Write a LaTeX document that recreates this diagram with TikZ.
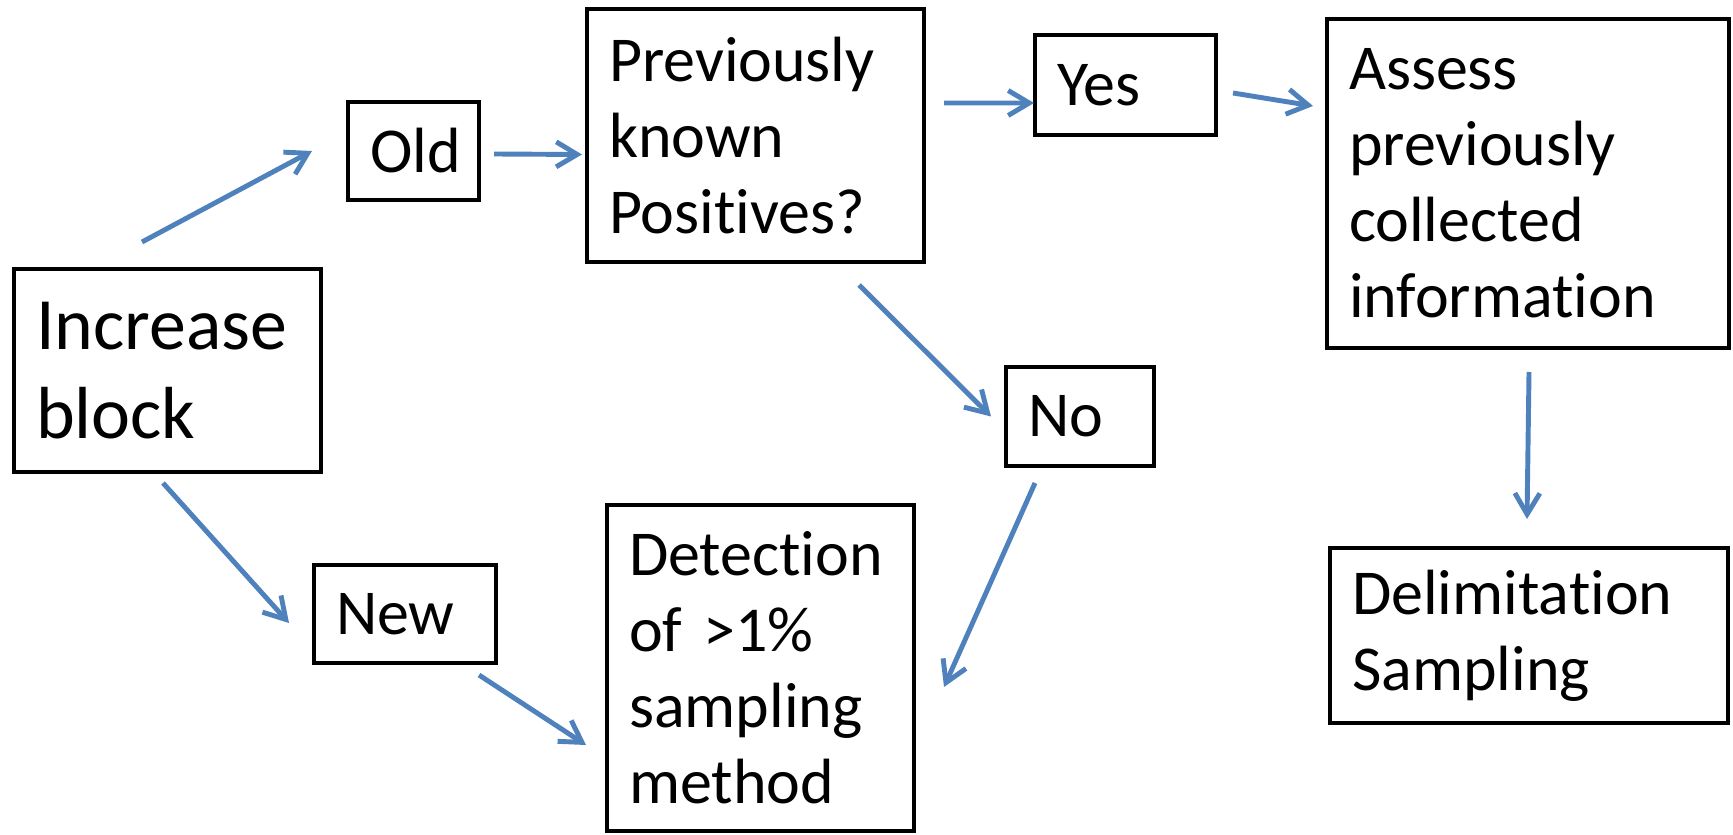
\documentclass[tikz,border=0pt]{standalone}
\usepackage{fontspec}
\setmainfont{Carlito}[Ligatures=NoCommon]
\usepackage{xcolor}
\usepackage{tikz}
\usetikzlibrary{arrows.meta, positioning}
\definecolor{flowblue}{RGB}{79,129,189}
\tikzstyle{block} = [rectangle, draw, line width=1.4pt, outer sep=0pt, inner xsep=0.22cm, inner ysep=0pt, align=left, font=\fontsize{18.2}{21.6}\selectfont]
\tikzstyle{arrow} = [draw=flowblue, line width=1.4pt, -{Straight Barb[length=2.1mm, width=2.5mm]}]

\begin{document}
\begin{tikzpicture}
    \useasboundingbox (0,0) rectangle (17.33,-8.35);
    \node (inc) [block, anchor=north west, text width=2.63cm, minimum height=2.03cm, font=\fontsize{21}{25.2}\selectfont] at (0.14,-2.69) {Increase\\block};
    \node (old) [block, right=0.27cm of inc.north east, anchor=north west, yshift=1.67cm, text width=0.87cm, minimum height=0.98cm] {Old};
    \node (prev) [block, right=1.08cm of old.north east, anchor=north west, yshift=0.93cm, text width=2.93cm, minimum height=2.53cm] {Previously\\known\\Positives?};
    \node (yes) [block, right=1.11cm of prev.north east, anchor=north west, yshift=-0.26cm, text width=1.37cm, minimum height=1.00cm] {Yes};
    \node (assess) [block, right=1.11cm of yes.north east, anchor=north west, yshift=0.16cm, text width=3.58cm, minimum height=3.29cm] {Assess\\previously\\collected\\information};
    \node (no) [block, right=0.82cm of prev.south east, anchor=north west, yshift=-1.05cm, text width=1.04cm, minimum height=0.99cm] {No};
    \node (delim) [block, below=2.00cm of assess.south west, anchor=north west, xshift=0.03cm, text width=3.54cm, minimum height=1.75cm] {Delimitation\\Sampling};
    \node (new) [block, below=0.93cm of inc.south east, anchor=north west, xshift=-0.07cm, text width=1.38cm, minimum height=0.98cm] {New};
    \node (det) [block, right=1.11cm of new.north east, anchor=north west, yshift=0.60cm, text width=2.63cm, minimum height=3.26cm] {Detection\\of >1\%\\sampling\\method};

    \draw[arrow] ([shift={(1.28,0.27)}]inc.north west) -- ([shift={(-0.36,0)}]old.west);
    \draw[arrow] ([shift={(0.15,-0.03)}]old.east) -- ([shift={(-0.05,-0.19)}]prev.west);
    \draw[arrow] ([shift={(0.20,-0.94)}]prev.north east) -- ([shift={(-0.01,-0.18)}]yes.west);
    \draw[arrow] ([shift={(0.17,-0.08)}]yes.east) -- ([shift={(-0.14,-0.87)}]assess.north west);
    \draw[arrow] ([shift={(-0.65,-0.23)}]prev.south east) -- ([shift={(-0.15,0)}]no.west);
    \draw[arrow] ([shift={(0.01,-0.24)}]assess.south) -- ([shift={(-0.02,0.29)}]delim.north);
    \draw[arrow] ([shift={(1.49,-0.11)}]inc.south west) -- ([shift={(-0.25,-0.09)}]new.west);
    \draw[arrow] ([shift={(-0.17,-0.12)}]new.south east) -- ([shift={(-0.21,-0.77)}]det.west);
    \draw[arrow] ([shift={(-0.45,-0.17)}]no.south) -- ([shift={(0.30,-0.19)}]det.east);
  \end{tikzpicture}
\end{document}
